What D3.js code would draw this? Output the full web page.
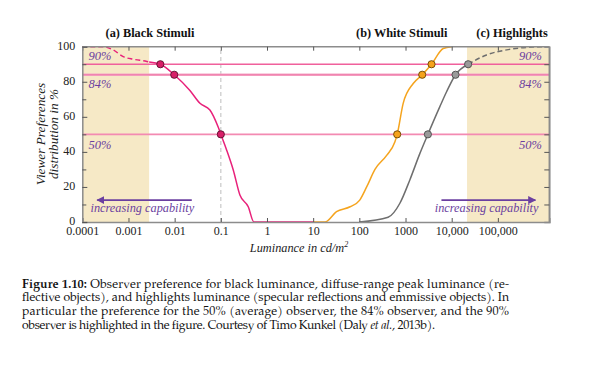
<!DOCTYPE html>
<html><head><meta charset="utf-8">
<script src="https://cdn.jsdelivr.net/npm/d3@7"></script>
<style>body{margin:0;background:#fff} svg{display:block}</style>
</head><body>
<svg id="c" width="599" height="365"></svg>
<script>
// ---- data ----
const xTickValues = [1e-4, 1e-3, 1e-2, 1e-1, 1, 10, 100, 1000, 1e4, 1e5];
const xTickLabels = ["0.0001", "0.001", "0.01", "0.1", "1", "10", "100", "1000", "10,000", "100,000"];
const yTickValues = [0, 20, 40, 60, 80, 100];
const yTickLabels = ["0", "20", "40", "60", "80", "100"];
const pctLevels = [90, 84, 50];
const pctLabels = ["90%", "84%", "50%"];
const titles = ["(a) Black Stimuli", "(b) White Stimuli", "(c) Highlights"];

// Black stimuli (dashed part, then solid part)
const blackDashLum = [0.0001, 0.00028, 0.00047, 0.00077, 0.0013, 0.0025, 0.0028];
const blackDashPct = [100, 100, 98.1, 94.3, 92.8, 91.6, 91.3];
const blackLum = [0.0028, 0.0049, 0.0098, 0.0214, 0.0353, 0.058, 0.088, 0.1, 0.134, 0.186, 0.259, 0.393, 0.52, 1, 3, 10];
const blackPct = [91.3, 90, 84, 75, 67.7, 63.9, 54, 50, 41, 29.7, 15.4, 8.7, 0, 0, 0, 0];
const blackMarksLum = [0.0049, 0.0098, 0.1];
const blackMarksPct = [90, 84, 50];

// White stimuli
const whiteLum = [10, 18, 32, 63, 102, 144, 218, 390, 590, 660, 890, 1470, 2300, 3660, 6550, 10000];
const whitePct = [0, 0, 5.9, 8.7, 12.5, 20, 30, 38, 45.8, 50, 67.7, 79, 84, 90, 99, 100];
const whiteMarksLum = [660, 2300, 3660];
const whiteMarksPct = [50, 84, 90];

// Highlights (solid part, then dashed part)
const highLum = [100, 420, 755, 1240, 2040, 3050, 5540, 7750, 12100, 22700];
const highPct = [0, 2.7, 10.7, 24, 39, 50, 65.8, 74.3, 84, 90];
const highDashLum = [22700, 56900, 182000, 580000, 1300000];
const highDashPct = [90, 95.3, 98.5, 99.8, 100];
const highMarksLum = [3050, 12100, 22700];
const highMarksPct = [50, 84, 90];

// shaded "capability" regions (luminance bounds)
const shadeLeft = [0.0001, 0.0028];
const shadeRight = [21500, 1300000];

// ---- layout ----
const svg = d3.select("#c");
const x = d3.scaleLog().domain([1e-4, 1.3e6]).range([82.3, 549.3]);
const y = d3.scaleLinear().domain([0, 100]).range([222, 46.7]);
const serif = '"Liberation Serif", "Times New Roman", serif';
const capFont = '"TeX Gyre Pagella", "Liberation Serif", serif';
const purple = "#6b3fa0";
const zip = (a, b) => a.map((v, i) => [v, b[i]]);

// shading
[shadeLeft, shadeRight].forEach(s => {
  svg.append("rect").attr("x", x(s[0])).attr("y", y(100))
    .attr("width", x(s[1]) - x(s[0])).attr("height", y(0) - y(100))
    .attr("fill", "#f6e9c6");
});

// dashed vertical at 0.1
svg.append("line").attr("x1", x(0.1)).attr("x2", x(0.1)).attr("y1", y(0)).attr("y2", y(100))
  .attr("stroke", "#c8c8c8").attr("stroke-width", 1.2).attr("stroke-dasharray", "4,3");

// percentage lines
const lvlStyle = {90: ["#f0609c", 1.3], 84: ["#f4a6c4", 2.4], 50: ["#f38ab2", 1.8]};
pctLevels.forEach(p => {
  svg.append("line").attr("x1", x(1e-4)).attr("x2", x(1.3e6)).attr("y1", y(p)).attr("y2", y(p))
    .attr("stroke", lvlStyle[p][0]).attr("stroke-width", lvlStyle[p][1]);
  if (p === 84) {
    svg.append("line").attr("x1", x(1e-4)).attr("x2", x(1.3e6)).attr("y1", y(p)).attr("y2", y(p))
      .attr("stroke", "#ee6fa3").attr("stroke-width", 0.8);
  }
});

// percent labels
const lblBase = {90: 60, 84: 88, 50: 149};
pctLevels.forEach((p, i) => {
  svg.append("text").attr("x", 88.5).attr("y", lblBase[p]).text(pctLabels[i])
    .style("font-family", serif).attr("font-style", "italic").attr("font-size", 12.5).attr("fill", purple);
  svg.append("text").attr("x", 542).attr("y", lblBase[p]).attr("text-anchor", "end").text(pctLabels[i])
    .style("font-family", serif).attr("font-style", "italic").attr("font-size", 12.5).attr("fill", purple);
});

// curves
const line = d3.line().x(d => x(d[0])).y(d => y(d[1])).curve(d3.curveMonotoneX);
const g = svg.append("g");
g.append("path").attr("d", line(zip(blackDashLum, blackDashPct))).attr("fill", "none")
  .attr("stroke", "#e8217a").attr("stroke-width", 1.5).attr("stroke-dasharray", "5,3");
g.append("path").attr("d", line(zip(blackLum, blackPct))).attr("fill", "none")
  .attr("stroke", "#e8217a").attr("stroke-width", 1.5);
g.append("path").attr("d", line(zip(whiteLum, whitePct))).attr("fill", "none")
  .attr("stroke", "#f5a41e").attr("stroke-width", 1.5);
g.append("path").attr("d", line(zip(highLum, highPct))).attr("fill", "none")
  .attr("stroke", "#6e6e6e").attr("stroke-width", 1.5);
g.append("path").attr("d", line(zip(highDashLum, highDashPct))).attr("fill", "none")
  .attr("stroke", "#6e6e6e").attr("stroke-width", 1.5).attr("stroke-dasharray", "5,3");

// frame and axes
const frameCol = "#8c8c8c";
svg.append("line").attr("x1", x(1e-4)).attr("x2", x(1.3e6)).attr("y1", y(100)).attr("y2", y(100))
  .attr("stroke", frameCol).attr("stroke-width", 1.5);
svg.append("line").attr("x1", x(1.3e6)).attr("x2", x(1.3e6)).attr("y1", y(0)).attr("y2", y(100))
  .attr("stroke", frameCol).attr("stroke-width", 1.5);

const xAxis = svg.append("g").attr("transform", `translate(0,${y(0)})`)
  .call(d3.axisBottom(x).tickValues(xTickValues).tickFormat((d, i) => xTickLabels[i]).tickSize(-4).tickPadding(4.5));
const xTop = svg.append("g").attr("transform", `translate(0,${y(100)})`)
  .call(d3.axisTop(x).tickValues(xTickValues).tickFormat("").tickSize(-4));
const yAxis = svg.append("g").attr("transform", `translate(${x(1e-4)},0)`)
  .call(d3.axisLeft(y).tickValues(yTickValues).tickFormat((d, i) => yTickLabels[i]).tickSize(-5).tickPadding(7));
const yMinor = svg.append("g").attr("transform", `translate(${x(1e-4)},0)`)
  .call(d3.axisLeft(y).tickValues(d3.range(10, 100, 20)).tickFormat("").tickSize(-4));
const yRight = svg.append("g").attr("transform", `translate(${x(1.3e6)},0)`)
  .call(d3.axisRight(y).tickValues(d3.range(10, 100, 10)).tickFormat("").tickSize(-5));

[xAxis, xTop, yAxis, yMinor, yRight].forEach(a => {
  a.select(".domain").attr("stroke", frameCol).attr("stroke-width", 1.5);
  a.selectAll(".tick line").attr("stroke", "#555").attr("stroke-width", 1);
  a.selectAll("text").style("font-family", serif).attr("font-size", 12).attr("fill", "#222");
});
yAxis.selectAll("text").attr("dy", "0.2em");
xTop.select(".domain").remove();
yMinor.select(".domain").remove();

// markers
const marks = [
  [blackMarksLum, blackMarksPct, "#d81e68", "#5a0f2c"],
  [whiteMarksLum, whiteMarksPct, "#f5a21c", "#6b4300"],
  [highMarksLum, highMarksPct, "#9a9a9a", "#4a4a4a"]
];
marks.forEach(([lx, py, f, s]) => {
  svg.selectAll(null).data(zip(lx, py)).enter().append("circle")
    .attr("cx", d => x(d[0])).attr("cy", d => y(d[1])).attr("r", 3.6)
    .attr("fill", f).attr("stroke", s).attr("stroke-width", 0.9);
});

// arrows
const defs = svg.append("defs");
defs.append("marker").attr("id", "ah").attr("viewBox", "0 0 10 10").attr("refX", 9).attr("refY", 5)
  .attr("markerWidth", 5).attr("markerHeight", 5).attr("orient", "auto")
  .append("path").attr("d", "M0,0 L10,5 L0,10 z").attr("fill", purple);
svg.append("line").attr("x1", x(0.0235)).attr("x2", x(0.00021)).attr("y1", y(12.5)).attr("y2", y(12.5))
  .attr("stroke", purple).attr("stroke-width", 1.6).attr("marker-end", "url(#ah)");
svg.append("line").attr("x1", x(6000)).attr("x2", x(650000)).attr("y1", y(12.5)).attr("y2", y(12.5))
  .attr("stroke", purple).attr("stroke-width", 1.6).attr("marker-end", "url(#ah)");
[[0.002, "increasing capability"], [57000, "increasing capability"]].forEach(([lx, t]) => {
  svg.append("text").attr("x", x(lx)).attr("y", 212).attr("text-anchor", "middle").text(t)
    .style("font-family", serif).attr("font-style", "italic").attr("font-size", 12.3).attr("fill", purple);
});

// titles
[[150, titles[0]], [401.7, titles[1]], [512, titles[2]]].forEach(([px, t]) => {
  svg.append("text").attr("x", px).attr("y", 37).attr("text-anchor", "middle").text(t)
    .style("font-family", serif).attr("font-weight", "bold").attr("font-size", 12.3).attr("fill", "#111");
});

// axis titles
const xl = svg.append("text").attr("x", 299).attr("y", 251.5).attr("text-anchor", "middle")
  .style("font-family", serif).attr("font-style", "italic").attr("font-size", 12.3).attr("fill", "#222");
xl.append("tspan").text("Luminance in cd/m");
xl.append("tspan").text("2").attr("font-size", 8).attr("dy", -5);
[["Viewer Preferences", 44.5], ["distribution in %", 57.5]].forEach(([t, px]) => {
  svg.append("text").attr("transform", `translate(${px},134) rotate(-90)`).attr("text-anchor", "middle").text(t)
    .style("font-family", serif).attr("font-style", "italic").attr("font-size", 13.3).attr("fill", "#222");
});

// caption
const capLines = [
  [[["Figure 1.10:", "bold"], [" Observer preference for black luminance, diffuse-range peak luminance (re-", ""]], 287.5, 487],
  [[["flective objects), and highlights luminance (specular reflections and emmissive objects). In", ""]], 301.3, 487],
  [[["particular the preference for the 50% (average) observer, the 84% observer, and the 90%", ""]], 315.1, 487],
  [[["observer is highlighted in the figure. Courtesy of Timo Kunkel (Daly ", ""], ["et al.", "italic"], [", 2013b).", ""]], 328.9, 413]
];
capLines.forEach(([parts, py, len]) => {
  const t = svg.append("text").attr("x", 22).attr("y", py).style("font-family", capFont)
    .attr("font-size", 12.2).attr("fill", "#111").attr("textLength", len).attr("lengthAdjust", "spacing")
    .attr("xml:space", "preserve");
  parts.forEach(([s, st]) => {
    const sp = t.append("tspan").text(s);
    if (st === "bold") sp.attr("font-weight", "bold");
    if (st === "italic") sp.attr("font-style", "italic");
  });
});
</script>
</body></html>
